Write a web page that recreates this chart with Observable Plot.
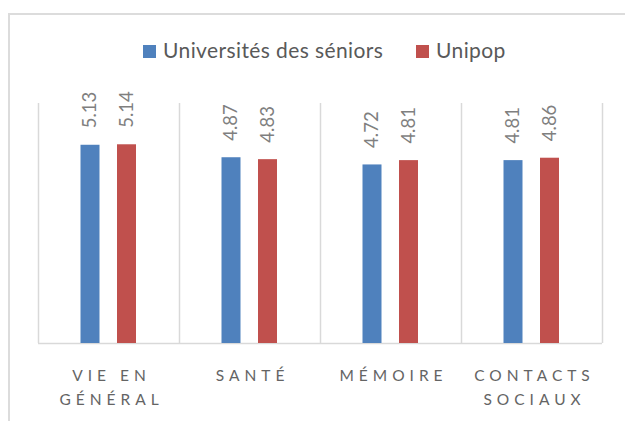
<!DOCTYPE html>
<html>
<head>
<meta charset="utf-8">
<script src="https://cdn.jsdelivr.net/npm/d3@7"></script>
<script src="https://cdn.jsdelivr.net/npm/@observablehq/plot@0.6"></script>
<style>
  html, body { margin: 0; padding: 0; background: #fff; }
  body { width: 625px; height: 421px; overflow: hidden; position: relative; font-family: Lato, "Open Sans", sans-serif; }
  #border { position: absolute; left: 8px; top: 13px; width: 700px; height: 500px; border: 2px solid #dcdcdc; box-sizing: border-box; }
  #legend { position: relative; height: 80px; }
  .sw { position: absolute; width: 13px; height: 13px; top: 45px; }
  .lt { position: absolute; font-size: 21px; line-height: 21px; top: 39px; color: #595959; white-space: nowrap; letter-spacing: 0.4px; }
  #chart { position: relative; }
</style>
</head>
<body>
<div id="border"></div>
<div id="legend"></div>
<div id="chart"></div>
<script>
const categories = ["VIE EN\nGÉNÉRAL", "SANTÉ", "MÉMOIRE", "CONTACTS\nSOCIAUX"];
const series = ["Universités des séniors", "Unipop"];
const seniors = [5.13, 4.87, 4.72, 4.81];
const unipop = [5.14, 4.83, 4.81, 4.86];
const colors = ["#4f81bd", "#c0504d"];
const yDomain = [1, 6];

// legend
const legend = document.getElementById("legend");
const legendPos = [{sw: 143, tx: 163}, {sw: 416, tx: 436}];
series.forEach((s, i) => {
  const sw = document.createElement("div");
  sw.className = "sw";
  sw.style.left = legendPos[i].sw + "px";
  sw.style.background = colors[i];
  legend.appendChild(sw);
  const t = document.createElement("div");
  t.className = "lt";
  t.style.left = legendPos[i].tx + "px";
  t.textContent = s;
  legend.appendChild(t);
});

const data = [];
categories.forEach((c, i) => {
  data.push({cat: c, series: series[0], value: seniors[i]});
  data.push({cat: c, series: series[1], value: unipop[i]});
});

const W = 625, H = 341, mL = 38, mR = 23, mT = 23, mB = 78;
const step = (W - mL - mR) / categories.length;
const barW = 19;
const inset = (step - barW) / 2;
const offs = [-18.5, 18];
const spacing = 5;

const marks = [
  Plot.ruleX(categories, {x: d => d, y1: yDomain[0], y2: yDomain[1], dx: -step / 2, stroke: "#d9d9d9", strokeWidth: 1.5}),
  Plot.ruleX([categories[categories.length - 1]], {x: d => d, y1: yDomain[0], y2: yDomain[1], dx: step / 2, stroke: "#d9d9d9", strokeWidth: 1.5}),
  Plot.ruleY([yDomain[0]], {stroke: "#d9d9d9", strokeWidth: 1.5})
];
series.forEach((s, i) => {
  const d = data.filter(r => r.series === s);
  marks.push(Plot.barY(d, {x: "cat", y1: () => yDomain[0], y2: "value", fill: colors[i], insetLeft: inset, insetRight: inset, dx: offs[i]}));
  marks.push(Plot.text(d, {x: "cat", y: "value", text: r => r.value.toFixed(2), dx: offs[i], dy: -17, rotate: -90, textAnchor: "start", lineAnchor: "middle", fill: "#7f7f7f", fontSize: 18.5, fontFamily: "Lato"}));
});
const xlab = Plot.text(categories, {x: d => d, y: yDomain[0], text: d => d, dy: 20, dx: spacing / 2, lineAnchor: "top", lineHeight: 1.55, fontSize: 15.5, fill: "#646464", fontFamily: "Lato"});
marks.push(xlab);

const chart = Plot.plot({
  width: W, height: H,
  marginLeft: mL, marginRight: mR, marginTop: mT, marginBottom: mB,
  x: {type: "band", domain: categories, padding: 0, axis: null},
  y: {domain: yDomain, axis: null},
  style: {background: "transparent", overflow: "visible"},
  marks
});
document.getElementById("chart").appendChild(chart);
// apply letter spacing to category labels (last text group)
const groups = chart.querySelectorAll('g[aria-label="text"]');
const last = groups[groups.length - 1];
if (last) last.querySelectorAll("text").forEach(t => { t.style.letterSpacing = spacing + "px"; });
</script>
</body>
</html>
